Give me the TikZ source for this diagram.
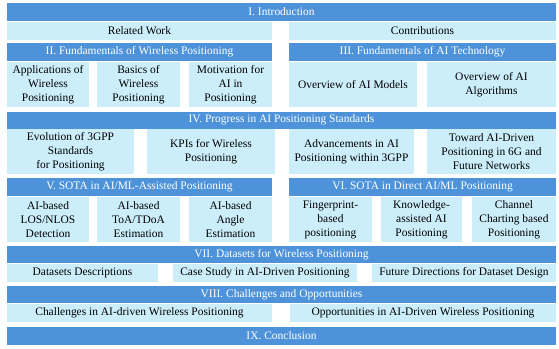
\documentclass[tikz,border=0pt]{standalone}
\usepackage{fontspec}
\setmainfont{Liberation Serif}
\usepackage{tikz}
\usetikzlibrary{positioning}
\definecolor{hdrblue}{RGB}{78,147,217}
\definecolor{subblue}{RGB}{204,238,251}
\tikzstyle{hdr} = [fill=hdrblue, text=white, rectangle, inner sep=0pt, minimum height=18bp, font=\fontsize{11.5}{14}\selectfont]
\tikzstyle{sub} = [fill=subblue, text=black, rectangle, inner sep=0pt, minimum height=18bp, align=center, font=\fontsize{11.5}{14}\selectfont]
\tikzstyle{tall} = [sub, minimum height=45bp]

\begin{document}
\begin{tikzpicture}[x=1bp, y=-1bp]
    \useasboundingbox (0,0) rectangle (559,348);
    % Introduction
    \node [hdr, minimum width=549bp] (intro) at (281.5,12) {I. Introduction};
    \node [sub, minimum width=265bp] (related) at (139.5,31) {Related Work};
    \node [sub, minimum width=267bp] (contrib) at (422.5,31) {Contributions};

    % Fundamentals
    \node [hdr, minimum width=265bp] (fundwp) at (139.5,52) {II. Fundamentals of Wireless Positioning};
    \node [hdr, minimum width=267bp] (fundai) at (422.5,52) {III. Fundamentals of AI Technology};
    \node [tall, minimum width=82bp] (apps) at (48,84.5) {Applications of\\Wireless\\Positioning};
    \node [tall, minimum width=83bp] (basics) at (138.5,84.5) {Basics of\\Wireless\\Positioning};
    \node [tall, minimum width=83bp] (motiv) at (230.5,84.5) {Motivation for\\AI in\\Positioning};
    \node [tall, minimum width=128bp] (models) at (353,84.5) {Overview of AI Models};
    \node [tall, minimum width=129bp] (algos) at (491.5,84.5) {Overview of AI\\Algorithms};

    % Standards
    \node [hdr, minimum width=549bp, minimum height=17bp] (progress) at (281.5,120) {IV. Progress in AI Positioning Standards};
    \node [tall, minimum width=127bp] (evol) at (70.5,151.5) {Evolution of 3GPP\\Standards\\for Positioning};
    \node [tall, minimum width=128bp] (kpi) at (211,151.5) {KPIs for Wireless\\Positioning};
    \node [tall, minimum width=125bp] (advance) at (351.5,151.5) {Advancements in AI\\Positioning within 3GPP};
    \node [tall, minimum width=129bp] (toward) at (491.5,151.5) {Toward AI-Driven\\Positioning in 6G and\\Future Networks};

    % SOTA
    \node [hdr, minimum width=265bp] (assisted) at (139.5,187) {V. SOTA in AI/ML-Assisted Positioning};
    \node [hdr, minimum width=267bp] (direct) at (422.5,187) {VI. SOTA in Direct AI/ML Positioning};
    \node [tall, minimum width=82bp] (los) at (48,219.5) {AI-based\\LOS/NLOS\\Detection};
    \node [tall, minimum width=83bp] (toa) at (138.5,219.5) {AI-based\\ToA/TDoA\\Estimation};
    \node [tall, minimum width=83bp] (angle) at (230.5,219.5) {AI-based\\Angle\\Estimation};
    \node [tall, minimum width=83bp] (finger) at (330.5,219.5) {Fingerprint-\\based\\positioning};
    \node [tall, minimum width=81bp] (knowledge) at (421.5,219.5) {Knowledge-\\assisted AI\\Positioning};
    \node [tall, minimum width=84bp] (charting) at (514,219.5) {Channel\\Charting based\\Positioning};

    % Datasets
    \node [hdr, minimum width=549bp, minimum height=17bp] (datasets) at (281.5,254.5) {VII. Datasets for Wireless Positioning};
    \node [sub, minimum width=151bp] (descr) at (82.5,273) {Datasets Descriptions};
    \node [sub, minimum width=184bp] (casestudy) at (265,273) {Case Study in AI-Driven Positioning};
    \node [sub, minimum width=184bp] (future) at (464,273) {Future Directions for Dataset Design};

    % Challenges
    \node [hdr, minimum width=549bp, minimum height=17bp] (chall) at (281.5,294.5) {VIII. Challenges and Opportunities};
    \node [sub, minimum width=265bp] (challenges) at (139.5,313) {Challenges in AI-driven Wireless Positioning};
    \node [sub, minimum width=266bp] (opport) at (423,313) {Opportunities in AI-Driven Wireless Positioning};

    % Conclusion
    \node [hdr, minimum width=549bp] (concl) at (281.5,336) {IX. Conclusion};
\end{tikzpicture}
\end{document}
